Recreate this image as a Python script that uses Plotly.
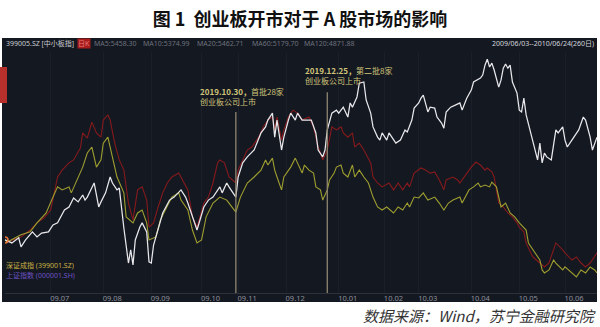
import plotly.graph_objects as go

# ---------------- data (trading-day index since 2009-06-03, % change) ----------------
month_ticks = [20, 43, 64, 86, 102, 123, 146, 166, 181, 204, 225, 245]
month_labels = ["09.07", "09.08", "09.09", "09.10", "09.11", "09.12",
                "10.01", "10.02", "10.03", "10.04", "10.05", "10.06"]

sme_days = [0, 3, 6, 7, 9, 11, 12, 14, 16, 19, 21, 23, 26, 28, 30, 32, 34, 35, 36, 39,
            41, 42, 44, 46, 47, 49, 50, 52, 54, 55, 56, 57, 58, 59, 60, 62, 63, 64, 65, 67,
            69, 72, 74, 77, 79, 80, 82, 84, 87, 89, 91, 93, 94, 95, 97, 98, 101, 102, 104, 106,
            109, 112, 114, 115, 117, 118, 119, 121, 122, 124, 125, 127, 128, 130, 132, 134, 136, 137, 139, 140,
            141, 142, 143, 145, 146, 148, 150, 151, 152, 154, 155, 157, 158, 160, 161, 163, 164, 165, 167, 168,
            170, 171, 173, 175, 176, 178, 179, 181, 182, 183, 185, 186, 188, 189, 191, 192, 193, 195, 197, 199,
            200, 202, 204, 205, 208, 209, 210, 211, 212, 213, 214, 216, 217, 218, 219, 220, 221, 222, 224, 225,
            226, 227, 228, 230, 231, 233, 234, 235, 236, 237, 239, 240, 241, 242, 244, 245, 246, 248, 250, 251,
            253, 254, 256, 257, 259]
sme_vals = [0, -1, 0.7, -2.3, 0, 1.7, 2.7, 1, 2.3, 2.7, 5, 5.7, 10, 11, 14, 12.7, 15, 13.3, 14.3, 19,
            11, 12.7, 15.7, 21, 19, 16.7, 17.3, 4, -7.7, -3.3, -8.3, 0, 2.3, 4.3, 5.7, 2.7, -7.3, -7.7, -1.7, 3.3,
            9, 13.3, 14.3, 16.7, 14.3, 12.3, 7.7, 3.3, 11, 13.3, 14.3, 16.7, 17.7, 15.7, 19, 17.7, 14.3, 21, 25.7, 27.7,
            30, 35.7, 37.7, 40, 42.3, 34.3, 40, 30, 34.3, 40, 42.3, 40, 42.3, 40, 40, 40, 35.7, 30, 27.7, 30,
            36.7, 40, 42.3, 43.3, 42.3, 44.3, 41, 45.7, 44.3, 47.7, 52.3, 52.7, 46.7, 42.3, 37.7, 34.3, 33.3, 35.7, 33.3, 35.7,
            33.3, 32.3, 33.3, 36.7, 36, 40, 44, 45.7, 47.3, 48.3, 42.7, 44.3, 44, 41, 39, 37.3, 42.7, 44.3, 45, 45.7,
            43.3, 47.3, 50, 52.7, 54, 55, 58.3, 60.3, 57.7, 59, 56.7, 51, 53.3, 57.3, 58.7, 57.3, 58.3, 52.7, 49, 43.3,
            42.7, 47.3, 41.7, 36, 32.3, 26.7, 32.3, 25.7, 29, 27.7, 26.7, 32.3, 36.7, 35.7, 37.7, 33.3, 31, 33.3, 35.7, 36.7,
            41, 40, 34.3, 30, 34.3]

red_days = [0, 1, 7, 11, 14, 17, 20, 22, 23, 25, 28, 30, 33, 34, 36, 38, 40, 42, 43, 45,
            46, 48, 50, 52, 54, 56, 58, 60, 62, 63, 65, 67, 69, 71, 73, 76, 80, 82, 84, 87,
            89, 91, 93, 94, 96, 98, 101, 102, 104, 106, 108, 111, 113, 115, 117, 118, 119, 121, 122, 124,
            126, 128, 130, 133, 135, 137, 138, 139, 141, 142, 143, 145, 147, 148, 150, 152, 153, 155, 157, 160,
            161, 163, 165, 168, 170, 172, 174, 176, 177, 179, 182, 184, 186, 188, 190, 192, 193, 196, 198, 199,
            202, 204, 206, 208, 210, 211, 213, 214, 216, 218, 220, 222, 224, 225, 227, 228, 230, 231, 234, 236,
            238, 240, 241, 244, 245, 248, 250, 252, 254, 256, 258, 259]
red_vals = [0, -0.7, 1, 3.3, 5.7, 7.3, 10, 16.7, 21, 23.3, 25.7, 26.7, 30.7, 35.7, 34, 39.3, 35.7, 34.3, 40, 41.7,
            40, 32.3, 26.7, 23.3, 12.3, 6.7, 16.7, 17.7, 13.3, 4.3, 5.7, 11, 15.7, 19, 21, 22.3, 16.7, 7.7, 4.3, 12.3,
            14.3, 19, 25.7, 26.7, 25.7, 21, 19, 23.3, 26.7, 30, 31, 34.3, 37.7, 40, 41, 36.7, 41, 33.3, 36.7, 41,
            43.3, 42.3, 40, 41, 37.7, 31, 29, 26.7, 30, 34.3, 37.7, 36.7, 37.7, 35.7, 34.3, 35.7, 31, 32.3, 30, 25.7,
            21, 19, 17.7, 19, 16.7, 19, 16.7, 19, 17.7, 22.3, 24, 23.3, 22.3, 22.7, 20, 16.7, 20, 21, 20, 19,
            22.3, 24.3, 26, 25, 23.3, 24, 22.7, 21, 12.3, 11, 9, 7.7, 5.7, 4.3, 2.7, -1, -4.3, -5.7, -7.7, -9,
            -7.7, -3.3, -1, -3.3, -4.3, -6.7, -5.7, -7.7, -9, -7.7, -5.7, -4.3]

szse_days = [0, 1, 7, 11, 14, 18, 21, 23, 25, 28, 29, 31, 34, 36, 38, 40, 42, 43, 45, 46,
             48, 49, 52, 53, 56, 58, 60, 62, 63, 66, 68, 71, 73, 76, 77, 80, 82, 84, 86, 88,
             91, 94, 97, 98, 100, 101, 103, 106, 109, 112, 114, 115, 117, 118, 119, 121, 122, 125, 127, 128,
             130, 131, 133, 135, 136, 138, 139, 141, 142, 144, 145, 147, 148, 150, 152, 153, 155, 157, 159, 161,
             163, 165, 167, 170, 172, 174, 176, 177, 179, 181, 183, 185, 188, 190, 192, 194, 196, 199, 200, 203,
             205, 207, 208, 210, 212, 213, 215, 217, 219, 221, 223, 225, 228, 229, 231, 232, 234, 235, 236, 238,
             240, 241, 244, 245, 248, 250, 252, 254, 256, 258, 259]
szse_vals = [0, -0.7, 1.7, 2.7, 5.7, 9, 14.3, 17.7, 16.7, 17.7, 15.7, 19, 24.3, 29, 31, 24.3, 26.7, 32.3, 34.3, 31,
             24.3, 21, 15.7, 7.7, 5.7, 9, 10, 5.7, 0, 1, 6.7, 11, 14.3, 15.7, 13.3, 10, 3.3, -1, 0, 7.7,
             12.3, 14.3, 13.3, 12.3, 10, 9.3, 14.3, 19, 21, 23.3, 26.7, 25, 27.3, 23.3, 21, 16.7, 21, 24.3, 27.3, 25.7,
             22.3, 25, 23.3, 22.3, 17.7, 16.7, 13.3, 16.7, 20, 22.3, 24.3, 25, 22.3, 21, 25, 21, 23.3, 21, 19, 14.3,
             11, 10, 11, 9, 11, 10, 12.3, 11, 14.3, 14, 15.7, 13.3, 14.3, 12.3, 10, 12.3, 13.3, 14.3, 12.3, 16.7,
             17.7, 19, 17.7, 18.3, 17.7, 19.3, 17.7, 11, 12.3, 9, 7.7, 5.7, 3.3, -1, -3.3, -4.3, -6.7, -10, -11, -10,
             -6.7, -7.7, -10, -9, -11, -12.3, -10, -11, -9, -10, -11]

event_days = [101, 141]
event_text = ["<b>2019.10.30，</b>首批28家<br>创业板公司上市",
              "<b>2019.12.25，</b>第二批8家<br>创业板公司上市"]

header_left = "399005.SZ [中小板指]"
ma_labels = ["MA5:5458.30", "MA10:5374.99", "MA20:5462.71", "MA60:5179.70", "MA120:4871.88"]
header_right = "2009/06/03--2010/06/24(260日)"
legend_labels = ["深证成指 (399001.SZ)", "上证指数 (000001.SH)"]

# ---------------- styling ----------------
PANEL = "#141821"
W, H = 600, 327
L, R, T, B = 5, 3, 52, 34
PW, PH = W - L - R, H - T - B
YR = [-17.7, 62.7]


def px2xp(px):
    return (px - L) / PW


def py2yp(py):
    return (H - B - py) / PH


fig = go.Figure()
fig.add_trace(go.Scatter(x=red_days, y=red_vals, mode="lines",
                         line=dict(color="#851a1c", width=1.1), hoverinfo="skip"))
fig.add_trace(go.Scatter(x=szse_days, y=szse_vals, mode="lines",
                         line=dict(color="#9f9f30", width=1.1), hoverinfo="skip"))
fig.add_trace(go.Scatter(x=sme_days, y=sme_vals, mode="lines",
                         line=dict(color="#e8e8ec", width=1.25), hoverinfo="skip"))
fig.add_trace(go.Scatter(x=sme_days[:1], y=sme_vals[:1], mode="markers",
                         marker=dict(symbol="circle-open", size=6, color="#e4783c",
                                     line=dict(width=1.5, color="#e4783c")),
                         hoverinfo="skip"))

shapes = [
    dict(type="rect", xref="paper", yref="paper", x0=px2xp(2), x1=px2xp(597),
         y0=py2yp(302), y1=py2yp(38), fillcolor=PANEL, line=dict(width=0), layer="below"),
    dict(type="rect", xref="paper", yref="paper", x0=px2xp(0), x1=px2xp(7),
         y0=py2yp(103), y1=py2yp(67), fillcolor="#b8302c", line=dict(width=0), layer="above"),
]
tops = [42.7, 49.3]
for d, t in zip(event_days, tops):
    shapes.append(dict(type="line", xref="x", yref="y", x0=d, x1=d, y0=YR[0], y1=t,
                       line=dict(color="#8e8670", width=1.3)))

annotations = []
# event notes
note_x = [84.4, 130.4]
note_y = [47.8, 54.9]
for nx, ny, txt in zip(note_x, note_y, event_text):
    annotations.append(dict(x=nx, y=ny, xref="x", yref="y", text=txt, showarrow=False,
                            xanchor="left", yanchor="middle", align="left",
                            font=dict(size=8, color="#d2c57a",
                                      family="Noto Sans CJK SC, Noto Sans, sans-serif")))
# header
hy = py2yp(44)
hfont = "Noto Sans, Noto Sans CJK SC, sans-serif"
annotations.append(dict(x=px2xp(4), y=hy, xref="paper", yref="paper", text=header_left,
                        showarrow=False, xanchor="left", yanchor="middle",
                        font=dict(size=7, color="#c8cad0", family=hfont)))
annotations.append(dict(x=px2xp(77), y=hy, xref="paper", yref="paper", text="日K",
                        showarrow=False, xanchor="left", yanchor="middle", bgcolor="#a61c1c",
                        borderpad=0,
                        font=dict(size=7, color="#e87a7a", family=hfont)))
for px, t in zip([92, 141, 195, 250, 302], ma_labels):
    annotations.append(dict(x=px2xp(px), y=hy, xref="paper", yref="paper", text=t,
                            showarrow=False, xanchor="left", yanchor="middle",
                            font=dict(size=7, color="#6c717c", family=hfont)))
annotations.append(dict(x=px2xp(596), y=hy, xref="paper", yref="paper", text=header_right,
                        showarrow=False, xanchor="right", yanchor="middle",
                        font=dict(size=7, color="#d4d6dc", family=hfont)))
# legend texts
for py, t, c in zip([265, 275], legend_labels, ["#c9b243", "#6d52c4"]):
    annotations.append(dict(x=px2xp(4), y=py2yp(py), xref="paper", yref="paper", text=t,
                            showarrow=False, xanchor="left", yanchor="middle",
                            font=dict(size=7, color=c, family=hfont)))
# source
annotations.append(dict(x=px2xp(598), y=py2yp(315), xref="paper", yref="paper",
                        text="数据来源：Wind，苏宁金融研究院", showarrow=False,
                        xanchor="right", yanchor="middle",
                        font=dict(size=15, color="#333333", style="italic",
                                  family="Noto Sans CJK SC, sans-serif")))

fig.update_layout(
    width=W, height=H,
    margin=dict(l=L, r=R, t=T, b=B, pad=0),
    paper_bgcolor="white", plot_bgcolor=PANEL,
    showlegend=False,
    title=dict(text="<b>图 1  创业板开市对于 A 股市场的影响</b>", x=0.5, xref="container",
               y=1 - 20 / H, yref="container", xanchor="center", yanchor="middle",
               font=dict(size=18, color="#111111", family="Noto Sans CJK SC, sans-serif")),
    xaxis=dict(range=[0, 259], tickvals=month_ticks, ticktext=month_labels,
               showgrid=True, gridcolor="#1b1f29", gridwidth=1, zeroline=False,
               showline=True, linecolor="#2c313b", linewidth=1,
               ticks="", ticklabelshift=9, ticklabelstandoff=-2,
               tickfont=dict(size=7.5, color="#8d919b", family="Noto Sans, sans-serif"),
               fixedrange=True),
    yaxis=dict(range=YR, showgrid=False, zeroline=False, showticklabels=False,
               showline=False, fixedrange=True),
    shapes=shapes,
    annotations=annotations,
)

fig.write_html("out.html")
